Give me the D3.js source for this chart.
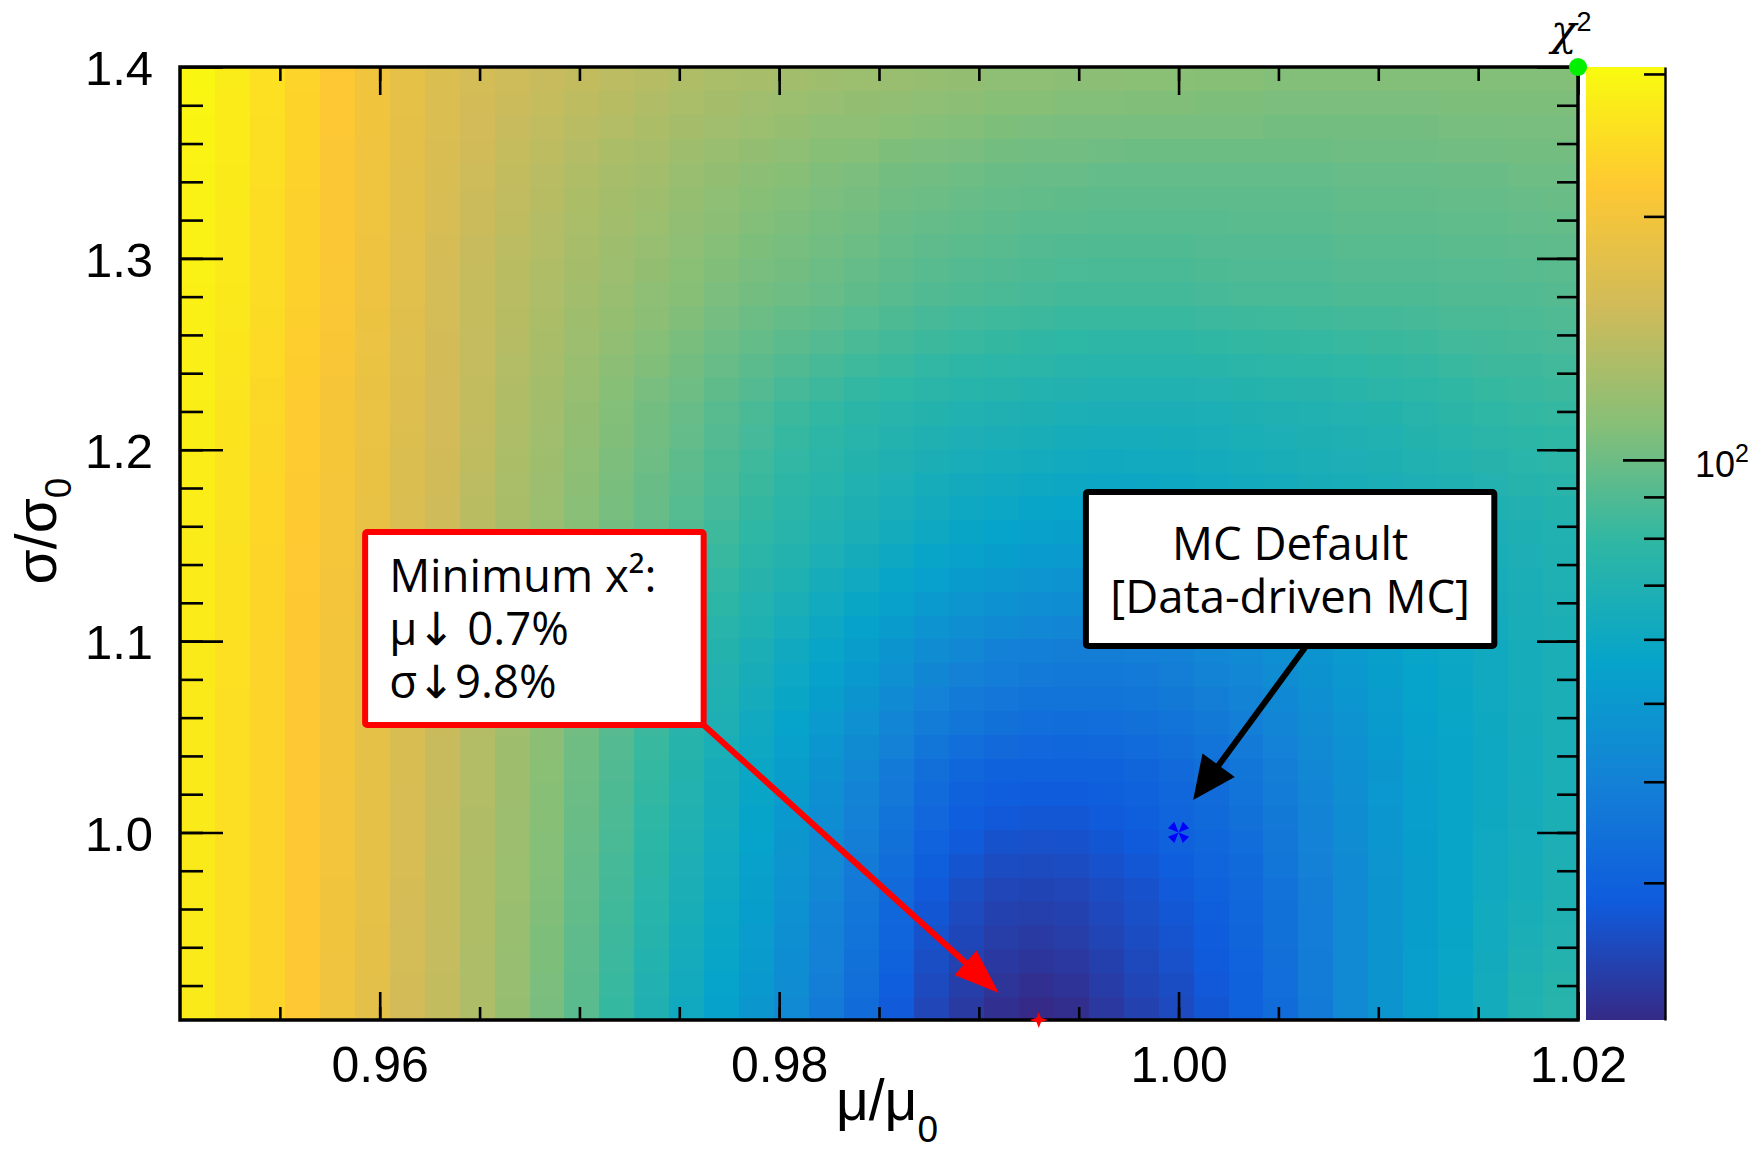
<!DOCTYPE html>
<html>
<head>
<meta charset="utf-8">
<script src="https://cdn.jsdelivr.net/npm/d3@7"></script>
<style>
  body { margin: 0; background: #fff; }
  svg { display: block; }
</style>
</head>
<body>
<svg id="chart" width="1761" height="1151"></svg>
<script>
// ---- data -------------------------------------------------------------
// scan ranges and binning of the chi2 map
const muRange = [0.95, 1.02];
const sigmaRange = [0.902, 1.4];
const nMuBins = 40;
const nSigmaBins = 40;
// colour (z) range, log scale
const zRange = [20.3, 306];

const xMajorTicks = [0.96, 0.98, 1.00, 1.02];
const yMajorTicks = [1.0, 1.1, 1.2, 1.3, 1.4];
const zMajorTicks = [100];
const zMinorTicks = [30, 40, 50, 60, 70, 80, 90, 200, 300];

// kBird palette stops
const birdColors = ["#352a87", "#0f5cdd", "#1481d6", "#06a4ca", "#2eb7a4",
                    "#87bf77", "#d1bb59", "#fec832", "#f9fb0e"];

// chi2 per cell: one row per sigma bin (lowest sigma first), 40 mu bins each
const chi2Grid = [
  [274,252,236,217,195,178,157,145,132,118,105,93,81,70,61.7,55.3,49.7,43.4,37.9,33.1,28.1,24.5,22.6,21.1,20.3,20.9,22.3,23.9,25.2,27.4,29.7,33.1,37.9,43.4,48.3,53.9,58.4,63.4,70.6,74.6],
  [274,252,236,217,196,178,158,145,132,119,106,93.7,81.9,71.1,62.7,56.2,50.5,44.3,38.8,33.9,28.9,25.2,23.3,21.8,21.1,21.6,23.0,24.4,25.8,27.9,30.1,33.5,38.1,43.4,48.3,53.6,58.1,63.1,69.5,73.4],
  [274,252,236,217,196,179,159,146,132,119,107,94.4,82.8,72.2,63.8,57.2,51.4,45.1,39.6,34.6,29.7,25.9,23.9,22.5,21.9,22.3,23.6,25.0,26.4,28.3,30.5,33.8,38.3,43.4,48.3,53.3,57.8,62.7,68.4,72.2],
  [274,252,236,217,197,179,159,146,133,120,107,95.1,83.6,73.4,64.8,58.1,52.2,46.0,40.5,35.4,30.6,26.7,24.6,23.1,22.6,23.1,24.3,25.5,26.9,28.8,30.9,34.2,38.5,43.4,48.3,53.0,57.5,62.4,67.3,71.1],
  [274,252,236,217,197,180,160,147,133,120,108,95.8,84.5,74.5,65.9,59.1,53.1,46.8,41.3,36.1,31.4,27.4,25.2,23.8,23.4,23.8,24.9,26.1,27.5,29.2,31.3,34.5,38.7,43.4,48.3,52.7,57.2,62.0,66.2,69.9],
  [274,252,236,217,198,180,161,147,133,121,109,96.5,85.4,75.6,66.9,60.0,53.9,47.7,42.2,36.9,32.2,28.1,25.9,24.5,24.2,24.5,25.6,26.6,28.1,29.7,31.7,34.9,38.9,43.4,48.3,52.4,56.9,61.7,65.1,68.7],
  [274,252,236,217,199,180,162,147,133,121,110,97.3,86.3,76.7,68.0,61.0,54.8,48.6,43.2,38.0,33.3,29.3,27.0,25.6,25.3,25.5,26.5,27.5,28.9,30.6,32.5,35.7,39.6,43.9,48.6,52.7,56.9,61.4,64.8,68.3],
  [274,252,236,217,199,181,162,148,134,122,110,98.1,87.3,77.7,69.2,62.0,55.7,49.6,44.1,39.0,34.5,30.5,28.1,26.7,26.4,26.6,27.4,28.3,29.7,31.4,33.4,36.5,40.2,44.4,48.9,53.0,56.9,61.0,64.4,68.0],
  [274,252,236,217,200,181,163,148,134,122,111,98.9,88.2,78.8,70.3,63.1,56.6,50.5,45.1,40.1,35.6,31.6,29.1,27.9,27.5,27.6,28.3,29.2,30.6,32.3,34.2,37.3,40.9,44.8,49.1,53.3,56.9,60.7,64.1,67.6],
  [274,252,236,217,200,182,163,149,135,123,111,99.7,89.2,79.8,71.5,64.1,57.5,51.5,46.0,41.1,36.8,32.8,30.2,29.0,28.6,28.7,29.2,30.0,31.4,33.1,35.1,38.1,41.5,45.3,49.4,53.6,56.9,60.3,63.7,67.3],
  [274,252,236,217,201,182,164,149,135,123,112,100.5,90.1,80.9,72.6,65.1,58.4,52.4,47.0,42.2,37.9,34.0,31.3,30.1,29.7,29.7,30.1,30.9,32.2,34.0,35.9,38.9,42.2,45.8,49.7,53.9,56.9,60.0,63.4,66.9],
  [274,253,236,217,201,182,164,149,135,123,113,101.3,91.1,82.0,73.8,66.6,60.1,54.3,49.0,44.2,40.0,36.1,33.5,32.2,31.6,31.5,31.9,32.6,33.9,35.6,37.5,40.3,43.4,46.8,50.5,54.5,57.4,60.3,63.7,66.9],
  [274,254,236,217,201,182,164,150,136,124,113,102.1,92.1,83.2,75.0,68.1,61.8,56.1,51.0,46.3,42.1,38.2,35.7,34.3,33.6,33.4,33.6,34.3,35.5,37.3,39.1,41.7,44.6,47.9,51.4,55.1,57.8,60.7,64.1,66.9],
  [274,254,236,217,201,182,164,150,136,124,114,103.0,93.2,84.3,76.3,69.6,63.5,58.0,52.9,48.3,44.1,40.4,37.8,36.3,35.5,35.2,35.4,36.0,37.2,38.9,40.8,43.0,45.9,48.9,52.2,55.7,58.3,61.0,64.4,66.9],
  [274,255,236,217,201,182,164,151,137,125,114,103.8,94.2,85.5,77.5,71.1,65.2,59.8,54.9,50.4,46.2,42.5,40.0,38.4,37.5,37.1,37.1,37.7,38.8,40.6,42.4,44.4,47.1,50.0,53.1,56.3,58.7,61.4,64.8,66.9],
  [274,256,236,217,201,182,164,151,137,125,115,104.6,95.2,86.6,78.7,72.6,66.9,61.7,56.9,52.4,48.3,44.6,42.2,40.5,39.4,38.9,38.9,39.4,40.5,42.2,44.0,45.8,48.3,51.0,53.9,56.9,59.2,61.7,65.1,66.9],
  [275,257,237,218,201,183,164,151,137,126,116,105.8,96.8,88.6,81.0,74.9,69.3,64.3,59.6,55.3,51.3,47.7,45.3,43.6,42.4,41.9,41.9,42.4,43.5,45.1,46.9,48.6,51.0,53.3,55.8,58.4,60.4,62.7,65.8,67.6],
  [275,257,237,218,202,183,165,152,138,126,117,107.0,98.3,90.6,83.3,77.2,71.6,66.9,62.4,58.2,54.3,50.8,48.4,46.7,45.5,44.9,44.9,45.5,46.4,48.1,49.8,51.5,53.7,55.6,57.7,59.8,61.6,63.8,66.5,68.4],
  [276,258,238,219,202,184,165,152,138,127,118,108.1,99.9,92.5,85.5,79.6,74.0,69.4,65.1,61.1,57.4,53.8,51.4,49.9,48.5,47.9,47.9,48.5,49.4,51.0,52.6,54.3,56.3,57.9,59.6,61.3,62.7,64.8,67.3,69.1],
  [276,258,238,219,203,184,166,153,139,127,119,109.3,101.4,94.5,87.8,81.9,76.3,72.0,67.9,64.0,60.4,56.9,54.5,53.0,51.6,50.9,50.9,51.6,52.3,53.9,55.5,57.2,59.0,60.2,61.5,62.7,63.9,65.9,68.0,69.9],
  [277,259,239,220,203,185,166,153,139,128,120,110.5,103,96.5,90.1,84.2,78.7,74.6,70.6,66.9,63.4,60.0,57.6,56.1,54.6,53.9,53.9,54.6,55.3,56.9,58.4,60.0,61.7,62.5,63.4,64.2,65.1,66.9,68.7,70.6],
  [278,260,240,221,204,185,167,154,140,129,121,111.8,104.2,97.8,91.6,85.9,80.5,76.3,72.4,68.8,65.6,62.5,60.2,58.8,57.4,56.7,56.5,57.1,57.6,59.1,60.5,61.9,63.5,64.3,65.2,66.3,67.4,69.3,70.9,72.7],
  [279,261,240,221,204,186,168,155,141,130,122,113.1,105.4,99.1,93.2,87.6,82.3,78.0,74.3,70.8,67.9,65.0,62.8,61.5,60.2,59.5,59.1,59.5,59.9,61.3,62.5,63.9,65.3,66.1,67.1,68.4,69.7,71.6,73.1,74.7],
  [279,261,241,222,205,186,168,155,143,131,123,114.4,106.6,100.4,94.7,89.2,84.1,79.7,76.1,72.7,70.1,67.6,65.4,64.3,63.1,62.2,61.7,62.0,62.3,63.4,64.6,65.8,67.0,68.0,68.9,70.4,72.0,74.0,75.4,76.8],
  [280,262,241,222,205,187,169,156,144,132,124,115.7,107.8,101.7,96.3,90.9,85.9,81.4,78.0,74.7,72.4,70.1,68.0,67.0,65.9,65.0,64.3,64.4,64.6,65.6,66.6,67.8,68.8,69.8,70.8,72.5,74.3,76.3,77.6,78.8],
  [281,263,242,223,206,187,170,157,145,133,125,117,109,103,97.8,92.6,87.7,83.1,79.8,76.6,74.6,72.6,70.6,69.7,68.7,67.8,66.9,66.9,66.9,67.8,68.7,69.7,70.6,71.6,72.6,74.6,76.6,78.7,79.8,80.9],
  [282,264,243,224,207,188,171,157,145,134,126,119,111,105,100.3,95.3,90.8,86.6,83.4,80.3,78.2,76.1,74.3,73.3,72.3,71.3,70.6,70.6,70.6,71.6,72.5,73.3,74.0,75.1,75.9,77.5,79.3,81.0,81.9,83.0],
  [283,266,245,226,208,189,172,158,146,135,128,120,113,108,102.9,98.0,93.8,90.1,87.0,84.0,81.8,79.6,77.9,76.9,75.9,74.8,74.3,74.3,74.3,75.3,76.3,76.9,77.4,78.5,79.1,80.3,82.0,83.3,83.9,85.1],
  [283,267,246,227,210,190,173,158,146,137,129,122,116,110,105.4,100.6,96.9,93.5,90.6,87.8,85.4,83.1,81.6,80.5,79.4,78.4,78.0,78.0,78.0,79.1,80.1,80.5,80.9,82.0,82.4,83.2,84.7,85.5,86.0,87.2],
  [284,269,248,229,211,191,174,159,147,138,131,123,118,113,108.0,103.3,99.9,97.0,94.2,91.5,89.0,86.6,85.2,84.1,83.0,81.9,81.7,81.7,81.7,82.8,83.9,84.1,84.3,85.4,85.6,86.0,87.4,87.8,88.0,89.3],
  [285,270,249,230,212,192,175,159,147,139,132,125,120,115,110.5,106,103,100.5,97.8,95.2,92.6,90.1,88.9,87.7,86.6,85.4,85.4,85.4,85.4,86.6,87.7,87.7,87.7,88.9,88.9,88.9,90.1,90.1,90.1,91.4],
  [286,271,250,231,212,193,176,160,148,140,133,127,122,117,112,108,105,102.5,99.7,97.4,94.7,92.5,91.2,90.0,88.8,87.9,87.6,87.6,87.6,88.6,89.5,89.5,89.5,90.7,90.7,90.7,91.9,91.9,92.2,93.2],
  [287,272,250,231,213,193,176,161,149,141,135,128,123,119,114,110,107,104.5,101.7,99.5,96.8,94.9,93.5,92.2,91.1,90.4,89.8,89.8,89.8,90.6,91.2,91.2,91.2,92.5,92.5,92.5,93.7,93.7,94.3,95.0],
  [287,272,251,232,213,194,177,162,151,143,136,130,125,121,116,113,109,106.5,103.6,101.7,98.8,97.2,95.9,94.5,93.3,92.8,92.1,92.1,92.1,92.5,93.0,93.0,93.0,94.2,94.2,94.2,95.4,95.4,96.3,96.9],
  [288,273,251,232,214,194,177,163,152,144,138,131,126,123,118,115,111,108.5,105.6,103.8,100.9,99.6,98.2,96.7,95.6,95.3,94.3,94.3,94.3,94.5,94.7,94.7,94.7,96.0,96.0,96.0,97.2,97.2,98.4,98.7],
  [289,274,252,233,214,195,178,164,153,145,139,133,128,125,120,117,113,110.5,107.5,106,103,102,100.5,99,97.8,97.8,96.5,96.5,96.5,96.5,96.5,96.5,96.5,97.8,97.8,97.8,99,99,100.5,100.5],
  [291,275,253,234,215,196,179,165,155,147,142,136,131,128,123,120,117,114,111,110,107,106,105,103,102,102,101,100,100,100,100,100,100,101,101,101,102,102,103,103],
  [293,276,254,235,216,197,179,166,156,149,144,139,135,131,127,124,121,118,115,114,112,110,109,107,106,105,105,104,104,104,104,103,103,103,103,103,104,104,105,105],
  [295,276,255,235,216,197,180,167,158,151,147,142,138,134,130,127,124,121,119,117,116,114,113,111,111,109,109,108,108,107,107,106,106,106,106,106,107,107,107,107],
  [297,277,256,236,217,198,180,168,159,153,149,145,141,137,133,130,128,125,123,121,120,118,117,115,115,113,113,112,112,110.5,110.5,109,109,109,109,109,109,109,109,109]
];

// marked points
const bestFit = { mu: 0.993, sigma: 0.902 };
const mcDefault = { mu: 1.0, sigma: 1.0 };
const cornerPoint = { mu: 1.02, sigma: 1.4 };

// annotation boxes and arrows, in (mu, sigma) units
const minBox = { mu0: 0.95927, mu1: 0.97622, sig0: 1.0562, sig1: 1.157 };
const minLines = ["Minimum x\u00b2:", "\u03bc\u2193 0.7%", "\u03c3\u21939.8%"];
const mcBox = { mu0: 0.99536, mu1: 1.01581, sig0: 1.0974, sig1: 1.1779 };
const mcLines = ["MC Default", "[Data-driven MC]"];
const minArrow = { from: [0.97622, 1.0562], to: [0.9910, 0.9161] };
const mcArrow = { from: [1.00639, 1.0974], to: [1.00073, 1.0170] };

// ---- drawing ----------------------------------------------------------
const svg = d3.select("#chart");
const plot = { left: 180, top: 67, right: 1578, bottom: 1020 };
const AXIS_FONT = "'Liberation Sans', Arial, Helvetica, sans-serif";
const NOTE_FONT = "'Open Sans', 'Noto Sans', 'DejaVu Sans', sans-serif";

const x = d3.scaleLinear().domain(muRange).range([plot.left, plot.right]);
const y = d3.scaleLinear().domain(sigmaRange).range([plot.bottom, plot.top]);
const color = d3.scaleSequentialLog(d3.piecewise(d3.interpolateRgb, birdColors)).domain(zRange);

// heat map cells
const muStep = (muRange[1] - muRange[0]) / nMuBins;
const sigStep = (sigmaRange[1] - sigmaRange[0]) / nSigmaBins;
const cells = [];
chi2Grid.forEach((row, j) => row.forEach((v, i) => cells.push({ i, j, v })));

svg.append("g")
  .selectAll("rect")
  .data(cells)
  .join("rect")
  .attr("x", d => x(muRange[0] + d.i * muStep))
  .attr("y", d => y(sigmaRange[0] + (d.j + 1) * sigStep))
  .attr("width", d => x(muRange[0] + (d.i + 1) * muStep) - x(muRange[0] + d.i * muStep) + 0.6)
  .attr("height", d => y(sigmaRange[0] + d.j * sigStep) - y(sigmaRange[0] + (d.j + 1) * sigStep) + 0.6)
  .attr("fill", d => color(d.v))
  .attr("shape-rendering", "crispEdges");

// frame
svg.append("rect")
  .attr("x", plot.left).attr("y", plot.top)
  .attr("width", plot.right - plot.left).attr("height", plot.bottom - plot.top)
  .attr("fill", "none").attr("stroke", "#000").attr("stroke-width", 3.5);

// tick marks (all pointing into the frame)
function ticks(axisFn, scale, values, size, transform) {
  const g = svg.append("g")
    .attr("transform", transform)
    .call(axisFn(scale).tickValues(values).tickSize(size).tickSizeOuter(0).tickFormat(""));
  g.select(".domain").remove();
  g.selectAll(".tick line").attr("stroke", "#000").attr("stroke-width", 2.6);
  return g;
}
const xMinor = d3.range(1, 14).map(i => +(muRange[0] + i * 0.005).toFixed(3));
const yMinor = d3.range(1, 25).map(i => +(0.9 + i * 0.02).toFixed(2));

ticks(d3.axisBottom, x, xMinor, -13, `translate(0,${plot.bottom})`);
ticks(d3.axisBottom, x, xMajorTicks, -28, `translate(0,${plot.bottom})`);
ticks(d3.axisTop, x, xMinor, -14, `translate(0,${plot.top})`);
ticks(d3.axisTop, x, xMajorTicks, -28, `translate(0,${plot.top})`);
ticks(d3.axisLeft, y, yMinor, -23, `translate(${plot.left},0)`);
ticks(d3.axisLeft, y, yMajorTicks, -43, `translate(${plot.left},0)`);
ticks(d3.axisRight, y, yMinor, -21, `translate(${plot.right},0)`);
ticks(d3.axisRight, y, yMajorTicks, -41, `translate(${plot.right},0)`);

// tick labels
const xLab = svg.append("g")
  .attr("transform", `translate(0,${plot.bottom})`)
  .call(d3.axisBottom(x).tickValues(xMajorTicks).tickFormat(d3.format(".2f")).tickSize(0));
xLab.select(".domain").remove();
xLab.selectAll("text").attr("y", 62).attr("dy", null)
  .attr("font-family", AXIS_FONT).attr("font-size", 50).attr("fill", "#000");

const yLab = svg.append("g")
  .attr("transform", `translate(${plot.left},0)`)
  .call(d3.axisLeft(y).tickValues(yMajorTicks).tickFormat(d3.format(".1f")).tickSize(0).tickPadding(27));
yLab.select(".domain").remove();
yLab.selectAll("text").attr("dy", "0.36em")
  .attr("font-family", AXIS_FONT).attr("font-size", 49).attr("fill", "#000");

// axis titles
const xTitle = svg.append("text")
  .attr("x", 887).attr("y", 1120)
  .attr("text-anchor", "middle")
  .attr("font-family", AXIS_FONT).attr("font-size", 57);
xTitle.append("tspan").text("\u03bc/\u03bc");
xTitle.append("tspan").attr("font-size", 37).attr("dy", 22).text("0");

const yTitle = svg.append("text")
  .attr("transform", "translate(56,531) rotate(-90)")
  .attr("text-anchor", "middle")
  .attr("font-family", AXIS_FONT).attr("font-size", 57);
yTitle.append("tspan").text("\u03c3/\u03c3");
yTitle.append("tspan").attr("font-size", 37).attr("dy", 15).text("0");

// colour bar
const bar = { left: plot.right + 8, width: 79 };
const zScale = d3.scaleLog().domain(zRange).range([plot.bottom, plot.top]);
const grad = svg.append("defs").append("linearGradient")
  .attr("id", "zgrad").attr("x1", 0).attr("y1", 1).attr("x2", 0).attr("y2", 0);
birdColors.forEach((c, k) => grad.append("stop")
  .attr("offset", k / (birdColors.length - 1)).attr("stop-color", c));
svg.append("rect")
  .attr("x", bar.left).attr("y", zScale(zRange[1]))
  .attr("width", bar.width).attr("height", zScale(zRange[0]) - zScale(zRange[1]))
  .attr("fill", "url(#zgrad)");

const zAxisX = bar.left + bar.width;
const zAx = svg.append("g")
  .attr("transform", `translate(${zAxisX},0)`)
  .call(d3.axisRight(zScale).tickValues(zMinorTicks).tickSize(-21).tickSizeOuter(0).tickFormat(""));
zAx.select(".domain").attr("stroke", "#000").attr("stroke-width", 2.4);
zAx.selectAll(".tick line").attr("stroke", "#000").attr("stroke-width", 2.6);
ticks(d3.axisRight, zScale, zMajorTicks, -42, `translate(${zAxisX},0)`);

zMajorTicks.forEach(v => {
  const t = svg.append("text")
    .attr("x", zAxisX + 30).attr("y", zScale(v) + 17)
    .attr("font-family", AXIS_FONT).attr("font-size", 36);
  t.append("tspan").text("10");
  t.append("tspan").attr("font-size", 25).attr("dy", -15).text(String(Math.round(Math.log10(v))));
});

const zTitle = svg.append("text")
  .attr("x", plot.right - 27).attr("y", 45)
  .attr("font-family", "'DejaVu Serif', 'Liberation Serif', serif")
  .attr("font-style", "italic").attr("font-size", 42);
zTitle.append("tspan").text("\u03c7");
zTitle.append("tspan").attr("font-family", AXIS_FONT).attr("font-style", "normal")
  .attr("font-size", 27).attr("dy", -14).text("2");

// annotation arrows
function arrow(a, col, width, headLen, headW) {
  const x0 = x(a.from[0]), y0 = y(a.from[1]), x1 = x(a.to[0]), y1 = y(a.to[1]);
  const L = Math.hypot(x1 - x0, y1 - y0), ux = (x1 - x0) / L, uy = (y1 - y0) / L;
  const bx = x1 - ux * headLen, by = y1 - uy * headLen;
  svg.append("line")
    .attr("x1", x0).attr("y1", y0).attr("x2", bx + ux * 3).attr("y2", by + uy * 3)
    .attr("stroke", col).attr("stroke-width", width);
  svg.append("path")
    .attr("d", `M${x1},${y1}L${bx - uy * headW / 2},${by + ux * headW / 2}L${bx + uy * headW / 2},${by - ux * headW / 2}Z`)
    .attr("fill", col);
}
arrow(minArrow, "#ff0000", 6, 45, 33);
arrow(mcArrow, "#000000", 6, 43, 40);

// annotation boxes
function noteBox(b, stroke) {
  const bx = x(b.mu0), by = y(b.sig1);
  svg.append("rect")
    .attr("x", bx).attr("y", by)
    .attr("width", x(b.mu1) - bx).attr("height", y(b.sig0) - by)
    .attr("fill", "#fff").attr("stroke", stroke).attr("stroke-width", 6)
    .attr("stroke-linejoin", "round").attr("rx", 2);
  return { bx, by, w: x(b.mu1) - bx };
}
const rb = noteBox(minBox, "#ff0000");
minLines.forEach((s, k) => svg.append("text")
  .attr("x", rb.bx + 24).attr("y", rb.by + 60 + k * 53)
  .attr("font-family", NOTE_FONT).attr("font-size", 45.5).attr("fill", "#000")
  .text(s));

const kb = noteBox(mcBox, "#000000");
mcLines.forEach((s, k) => svg.append("text")
  .attr("x", kb.bx + kb.w / 2).attr("y", kb.by + 68 + k * 53)
  .attr("text-anchor", "middle")
  .attr("font-family", NOTE_FONT).attr("font-size", 45.5).attr("fill", "#000")
  .text(s));

// markers
const mx = x(mcDefault.mu), my = y(mcDefault.sigma);
const wedge = (dx, dy) => {
  const L = 10.5, h = 4.5, px = -dy, py = dx;
  return `M0,0L${dx * L + px * h},${dy * L + py * h}L${dx * L - px * h},${dy * L - py * h}Z`;
};
const s2 = Math.SQRT1_2;
svg.append("path")
  .attr("transform", `translate(${mx},${my})`)
  .attr("d", [[s2, s2], [s2, -s2], [-s2, s2], [-s2, -s2]].map(d => wedge(d[0], d[1])).join(""))
  .attr("fill", "#0000ff");

svg.append("path")
  .attr("transform", `translate(${x(bestFit.mu)},${y(bestFit.sigma)})`)
  .attr("d", "M9,0L2.2,2.2L0,8L-2.2,2.2L-9,0L-2.2,-2.2L0,-8L2.2,-2.2Z")
  .attr("fill", "#ff0000");

svg.append("circle")
  .attr("cx", x(cornerPoint.mu)).attr("cy", y(cornerPoint.sigma)).attr("r", 9)
  .attr("fill", "#00f000");
</script>
</body>
</html>
